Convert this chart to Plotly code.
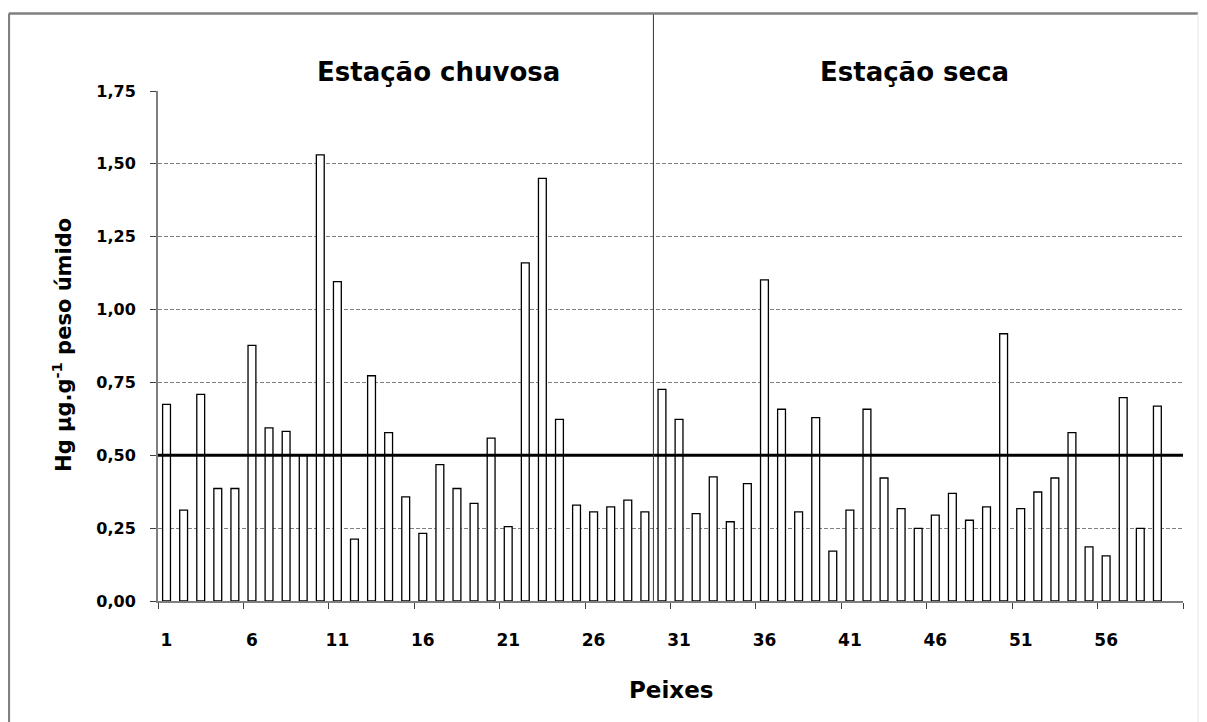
import plotly.graph_objects as go

# ---- data ----
fish = list(range(1, 60))
hg = [0.675, 0.312, 0.709, 0.386, 0.386, 0.877, 0.594, 0.582, 0.502, 1.531,
      1.096, 0.212, 0.773, 0.578, 0.357, 0.232, 0.468, 0.386, 0.335, 0.559,
      0.255, 1.160, 1.450, 0.623, 0.329, 0.306, 0.323, 0.346, 0.306, 0.726,
      0.623, 0.300, 0.426, 0.272, 0.403, 1.102, 0.658, 0.306, 0.629, 0.171,
      0.312, 0.658, 0.422, 0.317, 0.249, 0.295, 0.369, 0.277, 0.323, 0.917,
      0.317, 0.374, 0.422, 0.578, 0.186, 0.155, 0.698, 0.249, 0.669]
limit_value = 0.5
season_split = 29.5
x_tick_vals = [1, 6, 11, 16, 21, 26, 31, 36, 41, 46, 51, 56]
x_minor_ticks = [0.5 + 5 * i for i in range(13)]
y_tick_vals = [0, 0.25, 0.5, 0.75, 1.0, 1.25, 1.5, 1.75]
season_labels = ["Estação chuvosa", "Estação seca"]

FONT = "DejaVu Sans"

fig = go.Figure()
fig.add_trace(go.Bar(
    x=fish, y=hg, width=0.46,
    marker=dict(color="white", line=dict(color="black", width=1.3)),
    hoverinfo="x+y",
))

# page body has an 8px default margin; the figure is sized to fill the window from there
fig.update_layout(
    width=1199, height=714,
    margin=dict(l=150, r=24, t=83, b=121),
    plot_bgcolor="white", paper_bgcolor="white",
    separators=",.",
    showlegend=False,
    font=dict(family=FONT, color="black"),
)

fig.update_xaxes(
    range=[0.5, 60.5], tickmode="array", tickvals=x_tick_vals,
    ticks="", showgrid=False, zeroline=False,
    showline=True, linecolor="#7f7f7f", linewidth=2,
    tickfont=dict(family=FONT, size=17, color="black", weight="bold"),
    ticklabelstandoff=23,
    minor=dict(tickmode="array", tickvals=x_minor_ticks, ticks="outside",
               ticklen=6, tickcolor="#404040", tickwidth=1, showgrid=False),
)
fig.update_yaxes(
    range=[0, 1.75], tickmode="array", tickvals=y_tick_vals, tickformat=".2f",
    ticks="outside", ticklen=6, tickcolor="#404040", tickwidth=1,
    showline=True, linecolor="#7f7f7f", linewidth=2,
    showgrid=True, gridcolor="#7f7f7f", gridwidth=1, griddash="4px,2px",
    zeroline=False,
    tickfont=dict(family=FONT, size=16, color="black", weight="bold"),
    ticklabelstandoff=11,
)

# limit line at 0.5
fig.add_shape(type="line", xref="paper", yref="y", x0=0, x1=1,
              y0=limit_value, y1=limit_value,
              line=dict(color="black", width=3), layer="above")
# season separator
fig.add_shape(type="line", xref="x", yref="paper", x0=season_split, x1=season_split,
              y0=0, y1=1.152, line=dict(color="#333333", width=1), layer="above")
# outer frame
FRAME_L = -0.1455
fig.add_shape(type="line", xref="paper", yref="paper", x0=FRAME_L, x1=1.0146,
              y0=1.152, y1=1.152, line=dict(color="#808080", width=2.5))
fig.add_shape(type="line", xref="paper", yref="paper", x0=FRAME_L, x1=FRAME_L,
              y0=-0.25, y1=1.152, line=dict(color="#808080", width=2.5))
fig.add_shape(type="line", xref="paper", yref="paper", x0=1.0146, x1=1.0146,
              y0=-0.25, y1=1.152, line=dict(color="#e6e6e6", width=1))

# season labels
fig.add_annotation(text=season_labels[0], xref="paper", yref="paper",
                   x=0.2735, y=1.037, showarrow=False, xanchor="center", yanchor="middle",
                   font=dict(family=FONT, size=26, color="black", weight="bold"))
fig.add_annotation(text=season_labels[1], xref="paper", yref="paper",
                   x=0.738, y=1.037, showarrow=False, xanchor="center", yanchor="middle",
                   font=dict(family=FONT, size=26, color="black", weight="bold"))
# axis titles
fig.add_annotation(text="Hg µg.g<sup>-1</sup> peso úmido", xref="paper", yref="paper",
                   x=-0.0937, y=0.502, showarrow=False, textangle=-90,
                   xanchor="center", yanchor="middle",
                   font=dict(family=FONT, size=21, color="black", weight="bold"))
fig.add_annotation(text="Peixes", xref="paper", yref="paper",
                   x=0.5, y=-0.174, showarrow=False, xanchor="center", yanchor="middle",
                   font=dict(family=FONT, size=23, color="black", weight="bold"))

fig.write_html("out.html")
